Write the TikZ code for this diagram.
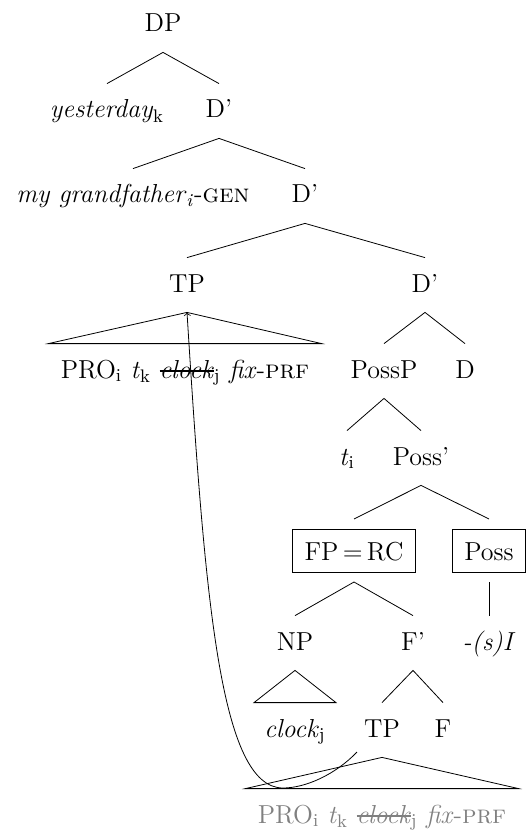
\documentclass[tikz,border=0pt]{standalone}
\newsavebox{\strkbox}
\newcommand{\strk}[1]{\sbox{\strkbox}{#1}\rlap{\vrule height 0.3em depth -0.25em width \wd\strkbox}\usebox{\strkbox}}
\newcommand{\proyield}{PRO\textsubscript{i} \textit{t}\textsubscript{k} \strk{\textit{clock}}\textsubscript{j} \textit{fix}-\textsc{prf}}
\begin{document}
\begin{tikzpicture}[x=0.5pt,y=-0.5pt,
  every node/.style={font=\fontsize{13}{15}\selectfont},
  cat/.style={anchor=base,inner xsep=0pt,inner ysep=0pt,text height=17pt,text depth=10pt},
  boxcat/.style={anchor=base,draw,inner xsep=6pt,inner ysep=0pt,text height=15.5pt,text depth=6pt,outer ysep=5pt},
  yield/.style={anchor=base,inner xsep=6pt,inner ysep=0pt,text height=17pt,text depth=10pt}]
  \useasboundingbox (0,0) rectangle (528,834);
  % upper spine
  \node[cat] (dp) at (163,32) {DP};
  \node[cat] (yest) at (107,118) {\textit{yesterday}\textsubscript{k}};
  \node[cat] (dbar1) at (219,118) {D'};
  \node[cat] (gf) at (133,203) {\textit{my grandfather}\textsubscript{\textit{i}}-\textsc{gen}};
  \node[cat] (dbar2) at (305,203) {D'};
  \node[cat] (tp1) at (187,292) {TP};
  \node[cat] (dbar3) at (425,292) {D'};
  \node[yield] (pro1) at (185,378) {\proyield};
  \node[cat] (possp) at (384,378) {PossP};
  \node[cat] (d) at (465,378) {D};
  \node[cat] (ti) at (347,465) {\textit{t}\textsubscript{i}};
  \node[cat] (possbar) at (421,465) {Poss'};
  % relative clause
  \node[boxcat] (fprc) at (354,560) {FP\,=\,RC};
  \node[boxcat] (poss) at (489,560) {Poss};
  \node[cat] (np) at (295,650) {NP};
  \node[cat] (fbar) at (413,650) {F'};
  \node[cat] (si) at (489,650) {\textit{-(s)I}};
  \node[yield,inner xsep=5pt] (clock) at (295,737) {\textit{clock}\textsubscript{j}};
  \node[cat] (tp2) at (382,737) {TP};
  \node[cat] (f) at (443,737) {F};
  \node[yield,black!50] (pro2) at (382,823) {\proyield};
  % branches
  \draw (yest.north) -- (dp.south) -- (dbar1.north);
  \draw (gf.north) -- (dbar1.south) -- (dbar2.north);
  \draw (tp1.north) -- (dbar2.south) -- (dbar3.north);
  \draw (tp1.south) -- (pro1.north west) -- (pro1.north east) -- cycle;
  \draw (possp.north) -- (dbar3.south) -- (d.north);
  \draw (ti.north) -- (possp.south) -- (possbar.north);
  \draw (fprc.north) -- (possbar.south) -- (poss.north);
  \draw (np.north) -- (fprc.south) -- (fbar.north);
  \draw (poss.south) -- (si.north);
  \draw (np.south) -- (clock.north west) -- (clock.north east) -- cycle;
  \draw (tp2.north) -- (fbar.south) -- (f.north);
  \draw (tp2.south) -- (pro2.north west) -- (pro2.north east) -- cycle;
  % movement
  \coordinate (movestart) at (357,752);
  \draw[->] (movestart) .. controls (335,775) and (305,788) .. (283,788)
    .. controls (220,788) and (205,600) .. (tp1.south);
\end{tikzpicture}
\end{document}
